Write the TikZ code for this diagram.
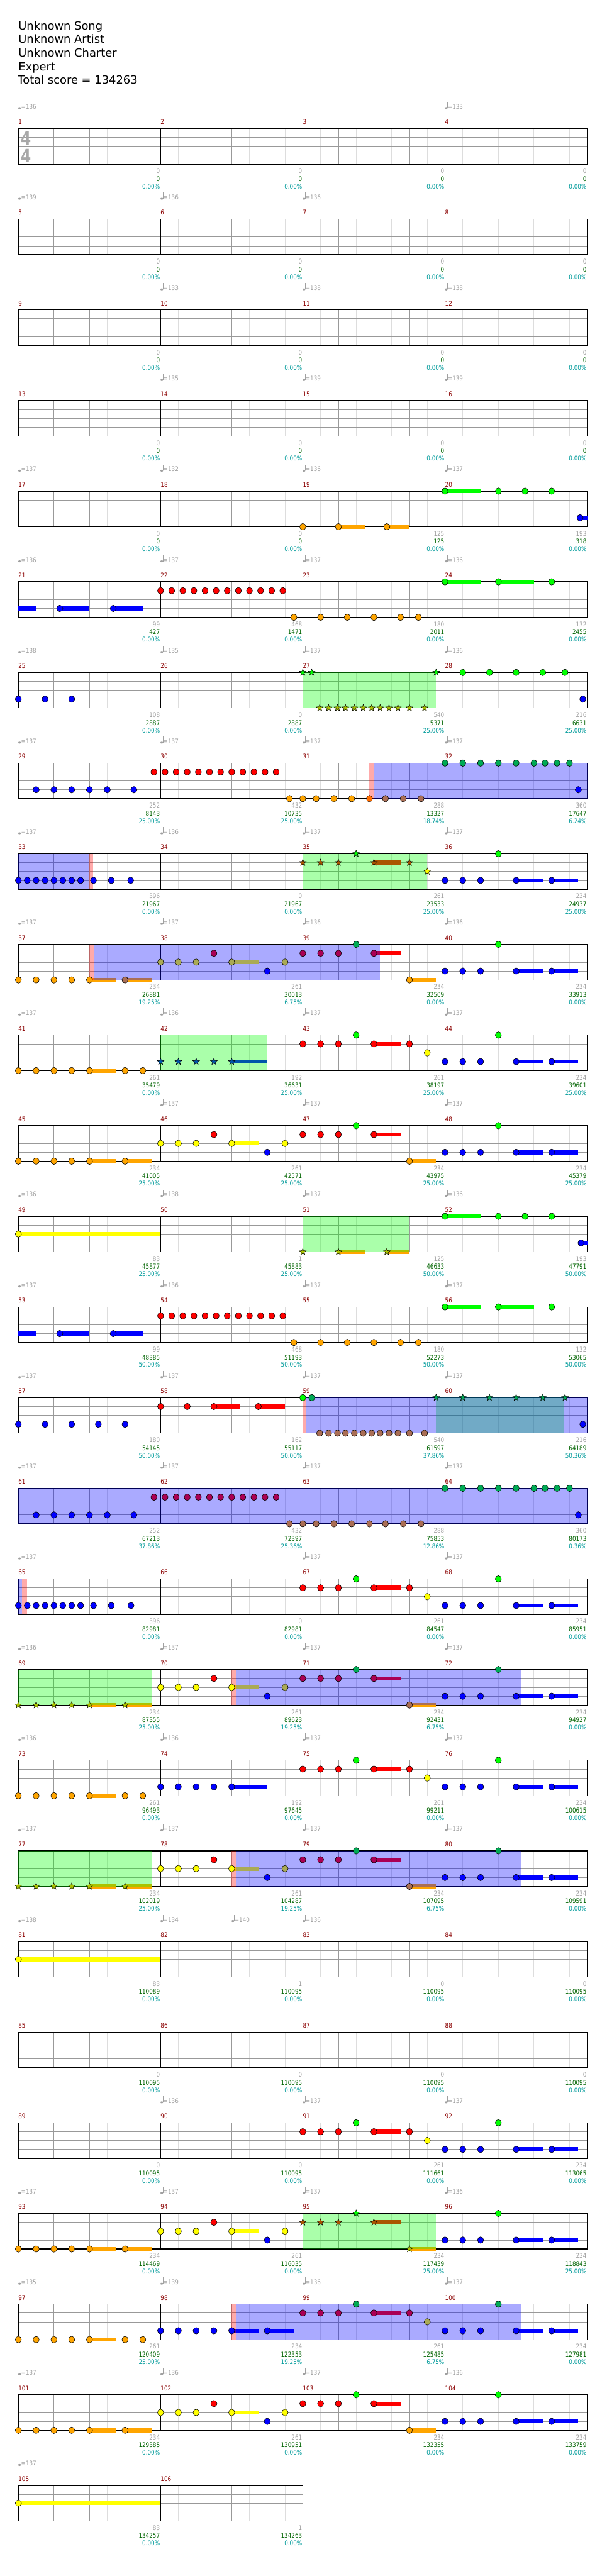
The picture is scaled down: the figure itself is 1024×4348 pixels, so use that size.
\documentclass[tikz,border=0pt]{standalone}
\usepackage{fontspec}
\setmainfont{DejaVu Sans}
\newfontfamily\labf[FakeStretch=0.85]{DejaVu Sans}
\newfontfamily\tsigf[FakeStretch=0.8]{DejaVu Sans}
\usetikzlibrary{shapes.geometric}
\definecolor{nG}{HTML}{00FF00}
\definecolor{nR}{HTML}{FF0000}
\definecolor{nY}{HTML}{FFFF00}
\definecolor{nB}{HTML}{0000FF}
\definecolor{nO}{HTML}{FFA500}
\definecolor{bG}{HTML}{00AA55}
\definecolor{bR}{HTML}{AA0055}
\definecolor{bY}{HTML}{AAAA55}
\definecolor{bO}{HTML}{AA6E55}
\definecolor{gO}{HTML}{AAC300}
\definecolor{gR}{HTML}{AA5500}
\definecolor{gB}{HTML}{0055AA}
\definecolor{pO}{HTML}{FF6E00}
\definecolor{cMnum}{HTML}{8B0000}
\definecolor{cTmp}{HTML}{A0A0A0}
\definecolor{cSgr}{HTML}{A0A0A0}
\definecolor{cSgn}{HTML}{006400}
\definecolor{cStl}{HTML}{009B9B}
\definecolor{cGl}{HTML}{DDDDDD}
\definecolor{cGm}{HTML}{999999}
\definecolor{cTs}{HTML}{A8A8A8}
\def\rT{0}
\newcommand\NT[3]{\filldraw[notestyle,fill=#3] ({31+15*(#1)},{\rT+15*(#2)}) ellipse (5.2 and 5.5);}
\newcommand\SN[3]{\node[starnote,fill=#3] at ({31+15*(#1)},{\rT+15*(#2)}) {};}
\newcommand\NL[3]{\foreach \u in {#3} {\NT{\u}{#1}{#2}}}
\newcommand\SL[3]{\foreach \u in {#3} {\SN{\u}{#1}{#2}}}
\newcommand\SU[4]{\fill[#4] ({31+15*(#1)},{\rT+15*(#3)-3.5}) rectangle ({31+15*(#2)},{\rT+15*(#3)+3.5});}
\newcommand\OV[3]{\fill[#3,opacity=0.333] ({31+15*(#1)},\rT) rectangle ({31+15*(#2)},{\rT+60});}
\newcommand\GRID[1]{%
 \pgfmathtruncatemacro\gE{8*#1-1}%
 \pgfmathtruncatemacro\gB{4*#1-1}%
 \pgfmathtruncatemacro\gM{#1-1}%
 \foreach \i in {1,3,...,\gE} {\draw[gl] ({31+30*\i},\rT) -- ++(0,60);}%
 \foreach \j in {1,2,3} {\draw[gm] (31,{\rT+15*\j}) -- ({31+240*#1},{\rT+15*\j});}%
 \foreach \i in {1,...,\gB} {\draw[gm] ({31+60*\i},\rT) -- ++(0,60);}%
 \foreach \i in {1,...,\gM} {\draw[gk] ({31+240*\i},\rT) -- ++(0,60);}%
 \draw[gb] (31,\rT) rectangle ({31+240*#1},{\rT+60});}
\newcommand\LBL[5]{%
 \node[mnumst] at ({31+240*#1},{\rT-7}) {#2};%
 \node[sgrst] at ({30+240*(#1+1)},{\rT+75.7}) {#3};%
 \node[sgnst] at ({30+240*(#1+1)},{\rT+89}) {#4};%
 \node[stlst] at ({30+240*(#1+1)},{\rT+101.7}) {#5\%};}
\newcommand\ZL[2]{\LBL{#1}{#2}{0}{0}{0.00}}
\newcommand\TP[2]{%
 \fill[cTmp] ({33+#1},{\rT-34.5}) ellipse (2.3 and 1.7);%
 \draw[cTmp,line width=0.7] ({35+#1},{\rT-34.5}) -- ({35+#1},{\rT-45});%
 \node[tpst] at ({35.5+#1},{\rT-33}) {=#2};}
% repeated figures
\newcommand\PatAsus{\SU{8}{11}{4}{nO}\SU{12}{15}{4}{nO}\SU{24}{27}{2}{nY}\SU{40}{43}{1}{nR}\SU{44}{47}{4}{nO}\SU{56}{59}{3}{nB}\SU{60}{63}{3}{nB}}
\newcommand\PatBsus{\SU{40}{43}{1}{nR}\SU{56}{59}{3}{nB}\SU{60}{63}{3}{nB}}
\newcommand\PatBnotes{\NL{1}{nR}{32,34,36,40,44}\NL{0}{nG}{38,54}\NT{46}{2}{nY}\NL{3}{nB}{48,50,52,56,60}}
\newcommand\RowSix{%
 \GRID{4}%
 \SU{0}{2}{3}{nB}\SU{4.66}{8}{3}{nB}\SU{10.67}{14}{3}{nB}\SU{48}{52}{0}{nG}\SU{54}{58}{0}{nG}%
 \NL{3}{nB}{4.66,10.67}%
 \foreach \k in {0,...,11} {\NT{16+1.25*\k}{1}{nR}}%
 \NL{4}{nO}{31,34,37,40,43,45}%
 \NL{0}{nG}{48,54,60}}
\begin{document}
\begin{tikzpicture}[x=1pt,y=-1pt,
 notestyle/.style={draw=black,line width=0.6},
 starnote/.style={star,star points=5,star point ratio=2.4,minimum size=12,inner sep=0,draw=black,line width=0.5},
 gl/.style={cGl,line width=0.8},
 gm/.style={cGm,line width=0.8},
 gk/.style={black,line width=0.8},
 gb/.style={black,line width=1.3},
 lab/.style={inner sep=0,font=\labf\fontsize{11}{11}\selectfont},
 mnumst/.style={lab,text=cMnum,anchor=base west},
 sgrst/.style={lab,text=cSgr,anchor=base east},
 sgnst/.style={lab,text=cSgn,anchor=base east},
 stlst/.style={lab,text=cStl,anchor=base east},
 tpst/.style={lab,text=cTmp,anchor=base west},
 title/.style={inner sep=0,anchor=base west,font=\fontsize{19}{19}\selectfont}]
\useasboundingbox[fill=white] (0,0) rectangle (1024,4348);
\node[title] (t1) at (31,50) {Unknown Song};
\node[title] (t2) at (31,73) {Unknown Artist};
\node[title] (t3) at (31,96) {Unknown Charter};
\node[title] (t4) at (31,119) {Expert};
\node[title] (t5) at (30,142) {Total score = 134263};
% ---- row 1
\def\rT{217}
\GRID{4}
\node[inner sep=0,anchor=base west,text=cTs,font=\tsigf\bfseries\fontsize{31}{31}\selectfont] (ts1) at (35,245) {4};
\node[inner sep=0,anchor=base west,text=cTs,font=\tsigf\bfseries\fontsize{31}{31}\selectfont] (ts2) at (35,274) {4};
\TP{0}{136}\TP{720}{133}
\ZL{0}{1}\ZL{1}{2}\ZL{2}{3}\ZL{3}{4}
% ---- row 2
\def\rT{370}
\GRID{4}
\TP{0}{139}\TP{240}{136}\TP{480}{136}
\ZL{0}{5}\ZL{1}{6}\ZL{2}{7}\ZL{3}{8}
% ---- row 3
\def\rT{523}
\GRID{4}
\TP{240}{133}\TP{480}{138}\TP{720}{138}
\ZL{0}{9}\ZL{1}{10}\ZL{2}{11}\ZL{3}{12}
% ---- row 4
\def\rT{676}
\GRID{4}
\TP{240}{135}\TP{480}{139}\TP{720}{139}
\ZL{0}{13}\ZL{1}{14}\ZL{2}{15}\ZL{3}{16}
% ---- row 5
\def\rT{829}
\GRID{4}
\TP{0}{137}\TP{240}{132}\TP{480}{136}\TP{720}{137}
\SU{36}{39}{4}{nO}\SU{41.45}{44}{4}{nO}\SU{48}{52}{0}{nG}\SU{63.2}{64}{3}{nB}
\NL{4}{nO}{32,36,41.45}\NL{0}{nG}{48,54,57,60}\NT{63.2}{3}{nB}
\ZL{0}{17}\ZL{1}{18}\LBL{2}{19}{125}{125}{0.00}\LBL{3}{20}{193}{318}{0.00}
% ---- row 6
\def\rT{982}
\RowSix
\TP{0}{136}\TP{240}{137}\TP{480}{137}\TP{720}{136}
\LBL{0}{21}{99}{427}{0.00}\LBL{1}{22}{468}{1471}{0.00}\LBL{2}{23}{180}{2011}{0.00}\LBL{3}{24}{132}{2455}{0.00}
% ---- row 7
\def\rT{1135}
\GRID{4}
\OV{32}{47}{nG}
\NL{3}{nB}{0,3,6}
\SL{0}{nG}{32,33,47}
\SL{4}{gO}{33.9,34.9,35.9,36.8,37.8,38.8,39.75,40.7,41.7,42.7,44,45.7}
\NL{0}{nG}{50,53,56,59,61.5}\NT{63.5}{3}{nB}
\TP{0}{138}\TP{240}{135}\TP{480}{137}\TP{720}{136}
\LBL{0}{25}{108}{2887}{0.00}\LBL{1}{26}{0}{2887}{0.00}\LBL{2}{27}{540}{5371}{25.00}\LBL{3}{28}{216}{6631}{25.00}
% ---- row 8
\def\rT{1288}
\GRID{4}
\OV{39.5}{40}{nR}\OV{40}{64}{nB}
\NL{3}{nB}{2,4,6,8,10,13}
\foreach \k in {0,...,11} {\NT{15.25+1.25*\k}{1}{nR}}
\NL{4}{nO}{30.5,32,33.5,35.5,37.5}\NT{39.5}{4}{pO}\NL{4}{bO}{41.3,43.3,45.3}
\NL{0}{bG}{48,50,52,54,56,58,59.25,60.6,62}\NT{63}{3}{nB}
\TP{0}{137}\TP{240}{137}\TP{480}{137}\TP{720}{137}
\LBL{0}{29}{252}{8143}{25.00}\LBL{1}{30}{432}{10735}{25.00}\LBL{2}{31}{288}{13327}{18.74}\LBL{3}{32}{360}{17647}{6.24}
% ---- row 9
\def\rT{1441}
\GRID{4}
\SU{40}{43}{1}{nR}\SU{56}{59}{3}{nB}\SU{60}{63}{3}{nB}
\OV{0}{7.97}{nB}\OV{7.97}{8.4}{nR}\OV{32}{46}{nG}
\NL{3}{nB}{0,1,2,3,4,5,6,7,8.45,10.45,12.63}
\SL{1}{gR}{32,34,36,40,44}\SN{38}{0}{nG}\SN{46}{2}{nY}
\NL{3}{nB}{48,50,52,56,60}\NT{54}{0}{nG}
\TP{0}{137}\TP{240}{136}\TP{480}{137}\TP{720}{137}
\LBL{0}{33}{396}{21967}{0.00}\LBL{1}{34}{0}{21967}{0.00}\LBL{2}{35}{261}{23533}{25.00}\LBL{3}{36}{234}{24937}{25.00}
% ---- row 10
\def\rT{1594}
\GRID{4}
\PatAsus
\OV{8}{8.5}{nR}\OV{8.5}{40.66}{nB}
\NL{4}{nO}{0,2,4,6,8}\NT{12}{4}{bO}\NL{2}{bY}{16,18,20,24,30}\NL{1}{bR}{22,32,34,36,40}
\NT{28}{3}{nB}\NT{38}{0}{bG}\NT{44}{4}{nO}\NL{3}{nB}{48,50,52,56,60}\NT{54}{0}{nG}
\TP{0}{137}\TP{240}{137}\TP{480}{136}\TP{720}{136}
\LBL{0}{37}{234}{26881}{19.25}\LBL{1}{38}{261}{30013}{6.75}\LBL{2}{39}{234}{32509}{0.00}\LBL{3}{40}{234}{33913}{0.00}
% ---- row 11
\def\rT{1747}
\GRID{4}
\SU{8}{11}{4}{nO}\SU{24}{28}{3}{nB}\PatBsus
\OV{16}{28}{nG}
\NL{4}{nO}{0,2,4,6,8,12,14}\SL{3}{gB}{16,18,20,22,24}\PatBnotes
\TP{0}{137}\TP{240}{136}\TP{480}{137}\TP{720}{137}
\LBL{0}{41}{261}{35479}{0.00}\LBL{1}{42}{192}{36631}{25.00}\LBL{2}{43}{261}{38197}{25.00}\LBL{3}{44}{234}{39601}{25.00}
% ---- row 12
\def\rT{1900}
\GRID{4}
\PatAsus
\NL{4}{nO}{0,2,4,6,8,12,44}\NL{2}{nY}{16,18,20,24,30}\NL{1}{nR}{22,32,34,36,40}
\NL{3}{nB}{28,48,50,52,56,60}\NL{0}{nG}{38,54}
\TP{240}{137}\TP{480}{137}\TP{720}{137}
\LBL{0}{45}{234}{41005}{25.00}\LBL{1}{46}{261}{42571}{25.00}\LBL{2}{47}{234}{43975}{25.00}\LBL{3}{48}{234}{45379}{25.00}
% ---- row 13
\def\rT{2053}
\GRID{4}
\SU{0}{16}{2}{nY}\SU{36}{39}{4}{nO}\SU{41.45}{44}{4}{nO}\SU{48}{52}{0}{nG}\SU{63.3}{64}{3}{nB}
\OV{32}{44}{nG}
\NT{0}{2}{nY}\SL{4}{gO}{32,36,41.45}\NL{0}{nG}{48,54,57,60}\NT{63.3}{3}{nB}
\TP{0}{136}\TP{240}{138}\TP{480}{137}\TP{720}{136}
\LBL{0}{49}{83}{45877}{25.00}\LBL{1}{50}{1}{45883}{25.00}\LBL{2}{51}{125}{46633}{50.00}\LBL{3}{52}{193}{47791}{50.00}
% ---- row 14
\def\rT{2206}
\RowSix
\TP{0}{137}\TP{240}{136}\TP{480}{137}\TP{720}{137}
\LBL{0}{53}{99}{48385}{50.00}\LBL{1}{54}{468}{51193}{50.00}\LBL{2}{55}{180}{52273}{50.00}\LBL{3}{56}{132}{53065}{50.00}
% ---- row 15
\def\rT{2359}
\GRID{4}
\SU{22}{25}{1}{nR}\SU{27}{30}{1}{nR}
\OV{32}{32.4}{nR}\OV{47}{61.4}{nG}\OV{32.4}{64}{nB}
\NL{3}{nB}{0,3,6,9,12}\NL{1}{nR}{16,19,22,27}\NT{32}{0}{nG}\NT{33}{0}{bG}
\NL{4}{bO}{33.9,34.9,35.9,36.8,37.8,38.8,39.75,40.7,41.7,42.7,44,45.7}
\SL{0}{bG}{47,50,53,56,59,61.5}\NT{63.5}{3}{nB}
\TP{0}{137}\TP{240}{137}\TP{480}{137}\TP{720}{137}
\LBL{0}{57}{180}{54145}{50.00}\LBL{1}{58}{162}{55117}{50.00}\LBL{2}{59}{540}{61597}{37.86}\LBL{3}{60}{216}{64189}{50.36}
% ---- row 16
\def\rT{2512}
\GRID{4}
\OV{0}{64}{nB}
\NL{3}{nB}{2,4,6,8,10,13}
\foreach \k in {0,...,11} {\NT{15.25+1.25*\k}{1}{bR}}
\NL{4}{bO}{30.5,32,33.5,35.5,37.5,39.5,41.3,43.3,45.3}
\NL{0}{bG}{48,50,52,54,56,58,59.25,60.6,62}\NT{63}{3}{nB}
\TP{0}{137}\TP{240}{137}\TP{480}{137}\TP{720}{137}
\LBL{0}{61}{252}{67213}{37.86}\LBL{1}{62}{432}{72397}{25.36}\LBL{2}{63}{288}{75853}{12.86}\LBL{3}{64}{360}{80173}{0.36}
% ---- row 17
\def\rT{2665}
\GRID{4}
\PatBsus
\OV{0}{0.43}{nB}\OV{0.43}{0.96}{nR}
\NL{3}{nB}{0,1,2,3,4,5,6,7,8.45,10.45,12.67}
\PatBnotes
\TP{0}{137}\TP{480}{137}\TP{720}{137}
\LBL{0}{65}{396}{82981}{0.00}\LBL{1}{66}{0}{82981}{0.00}\LBL{2}{67}{261}{84547}{0.00}\LBL{3}{68}{234}{85951}{0.00}
% ---- row 18
\def\rT{2818}
\GRID{4}
\PatAsus
\OV{0}{15}{nG}\OV{24}{24.5}{nR}\OV{24.5}{56.5}{nB}
\SL{4}{gO}{0,2,4,6,8,12}\NL{2}{nY}{16,18,20,24}\NT{30}{2}{bY}\NT{22}{1}{nR}\NT{28}{3}{nB}
\NL{1}{bR}{32,34,36,40}\NL{0}{bG}{38,54}\NT{44}{4}{bO}\NL{3}{nB}{48,50,52,56,60}
\TP{0}{136}\TP{240}{137}\TP{480}{137}\TP{720}{137}
\LBL{0}{69}{234}{87355}{25.00}\LBL{1}{70}{261}{89623}{19.25}\LBL{2}{71}{234}{92431}{6.75}\LBL{3}{72}{234}{94927}{0.00}
% ---- row 19
\def\rT{2971}
\GRID{4}
\SU{8}{11}{4}{nO}\SU{24}{28}{3}{nB}\PatBsus
\NL{4}{nO}{0,2,4,6,8,12,14}\NL{3}{nB}{16,18,20,22,24}\PatBnotes
\TP{0}{136}\TP{240}{136}\TP{480}{137}\TP{720}{137}
\LBL{0}{73}{261}{96493}{0.00}\LBL{1}{74}{192}{97645}{0.00}\LBL{2}{75}{261}{99211}{0.00}\LBL{3}{76}{234}{100615}{0.00}
% ---- row 20
\def\rT{3124}
\GRID{4}
\PatAsus
\OV{0}{15}{nG}\OV{24}{24.5}{nR}\OV{24.5}{56.5}{nB}
\SL{4}{gO}{0,2,4,6,8,12}\NL{2}{nY}{16,18,20,24}\NT{30}{2}{bY}\NT{22}{1}{nR}\NT{28}{3}{nB}
\NL{1}{bR}{32,34,36,40}\NL{0}{bG}{38,54}\NT{44}{4}{bO}\NL{3}{nB}{48,50,52,56,60}
\TP{0}{137}\TP{240}{137}\TP{480}{137}\TP{720}{137}
\LBL{0}{77}{234}{102019}{25.00}\LBL{1}{78}{261}{104287}{19.25}\LBL{2}{79}{234}{107095}{6.75}\LBL{3}{80}{234}{109591}{0.00}
% ---- row 21
\def\rT{3277}
\GRID{4}
\SU{0}{16}{2}{nY}\NT{0}{2}{nY}
\TP{0}{138}\TP{240}{134}\TP{360}{140}\TP{480}{136}
\LBL{0}{81}{83}{110089}{0.00}\LBL{1}{82}{1}{110095}{0.00}\LBL{2}{83}{0}{110095}{0.00}\LBL{3}{84}{0}{110095}{0.00}
% ---- row 22
\def\rT{3430}
\GRID{4}
\LBL{0}{85}{0}{110095}{0.00}\LBL{1}{86}{0}{110095}{0.00}\LBL{2}{87}{0}{110095}{0.00}\LBL{3}{88}{0}{110095}{0.00}
% ---- row 23
\def\rT{3583}
\GRID{4}
\PatBsus\PatBnotes
\TP{240}{136}\TP{480}{137}\TP{720}{137}
\LBL{0}{89}{0}{110095}{0.00}\LBL{1}{90}{0}{110095}{0.00}\LBL{2}{91}{261}{111661}{0.00}\LBL{3}{92}{234}{113065}{0.00}
% ---- row 24
\def\rT{3736}
\GRID{4}
\PatAsus
\OV{32}{47}{nG}
\NL{4}{nO}{0,2,4,6,8,12}\NL{2}{nY}{16,18,20,24,30}\NT{22}{1}{nR}\NT{28}{3}{nB}
\SL{1}{gR}{32,34,36,40}\SN{38}{0}{nG}\SN{44}{4}{gO}\NL{3}{nB}{48,50,52,56,60}\NT{54}{0}{nG}
\TP{0}{137}\TP{240}{137}\TP{480}{137}\TP{720}{136}
\LBL{0}{93}{234}{114469}{0.00}\LBL{1}{94}{261}{116035}{0.00}\LBL{2}{95}{234}{117439}{25.00}\LBL{3}{96}{234}{118843}{25.00}
% ---- row 25
\def\rT{3889}
\GRID{4}
\SU{8}{11}{4}{nO}\SU{24}{27}{3}{nB}\SU{28}{31}{3}{nB}\PatBsus
\OV{24}{24.5}{nR}\OV{24.5}{56.5}{nB}
\NL{4}{nO}{0,2,4,6,8,12,14}\NL{3}{nB}{16,18,20,22,24,28}
\NL{1}{bR}{32,34,36,40,44}\NL{0}{bG}{38,54}\NT{46}{2}{bY}\NL{3}{nB}{48,50,52,56,60}
\TP{0}{135}\TP{240}{139}\TP{480}{136}\TP{720}{137}
\LBL{0}{97}{261}{120409}{25.00}\LBL{1}{98}{234}{122353}{19.25}\LBL{2}{99}{261}{125485}{6.75}\LBL{3}{100}{234}{127981}{0.00}
% ---- row 26
\def\rT{4042}
\GRID{4}
\PatAsus
\NL{4}{nO}{0,2,4,6,8,12,44}\NL{2}{nY}{16,18,20,24,30}\NL{1}{nR}{22,32,34,36,40}
\NL{3}{nB}{28,48,50,52,56,60}\NL{0}{nG}{38,54}
\TP{0}{137}\TP{240}{136}\TP{480}{137}\TP{720}{136}
\LBL{0}{101}{234}{129385}{0.00}\LBL{1}{102}{261}{130951}{0.00}\LBL{2}{103}{234}{132355}{0.00}\LBL{3}{104}{234}{133759}{0.00}
% ---- row 27
\def\rT{4195}
\GRID{2}
\SU{0}{16}{2}{nY}\NT{0}{2}{nY}
\TP{0}{137}
\LBL{0}{105}{83}{134257}{0.00}\LBL{1}{106}{1}{134263}{0.00}
\end{tikzpicture}
\end{document}
